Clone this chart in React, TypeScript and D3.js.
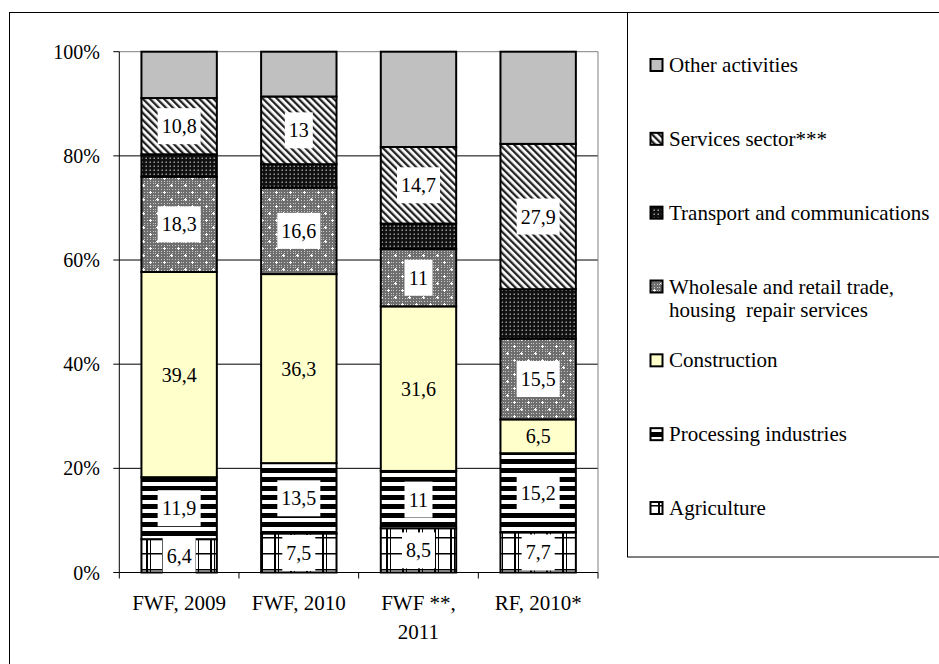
import React from "react";
import * as d3 from "d3";

const categories = ["FWF, 2009", "FWF, 2010", "FWF **,\n2011", "RF, 2010*"];

// stacked bottom -> top
const seriesNames = [
  "Agriculture",
  "Processing industries",
  "Construction",
  "Wholesale and retail trade,\nhousing  repair services",
  "Transport and communications",
  "Services sector***",
  "Other activities",
];

const agriculture = [6.4, 7.5, 8.5, 7.7];
const processing = [11.9, 13.5, 11, 15.2];
const construction = [39.4, 36.3, 31.6, 6.5];
const wholesale = [18.3, 16.6, 11, 15.5];
const transport = [4.3, 4.5, 4.9, 9.5];
const services = [10.8, 13, 14.7, 27.9];
const other = [8.9, 8.6, 18.3, 17.7];

const labelled = [true, true, true, true, false, true, false];
const yTicks = [0, 20, 40, 60, 80, 100];

const FONT = "'Liberation Serif', 'Times New Roman', serif";

export default function App() {
  const width = 939;
  const height = 664;
  const plot = { left: 119.3, right: 598, top: 51.7, bottom: 572.5 };

  const values = [agriculture, processing, construction, wholesale, transport, services, other];
  const keys = seriesNames.map((_, i) => "s" + i);
  const rows = categories.map((c, j) => {
    const r: any = { cat: c };
    keys.forEach((k, i) => (r[k] = values[i][j]));
    return r;
  });
  const stacked = d3.stack().keys(keys)(rows);

  const x = d3
    .scaleBand()
    .domain(categories)
    .range([plot.left, plot.right])
    .paddingInner(0.37)
    .paddingOuter(0.185);
  const y = d3.scaleLinear().domain([0, 100]).range([plot.bottom, plot.top]);

  const fills = [
    "url(#pAgri)",
    "url(#pProc)",
    "#FFFFCC",
    "url(#pTrade)",
    "url(#pTrans)",
    "url(#pServ)",
    "#C0C0C0",
  ];

  const fmt = (v: number) => String(v).replace(".", ",");
  const textW = (s: string) =>
    s.split("").reduce((a, ch) => a + (ch === "," ? 5 : 10), 0);

  const step = x.step();
  const legendOrder = [6, 5, 4, 3, 2, 1, 0];
  const legendY = d3.scalePoint().domain(legendOrder.map(String)).range([65, 508]);

  return (
    <svg
      width={width}
      height={height}
      style={{ position: "absolute", left: 0, top: 0, background: "#fff" }}
      fontFamily={FONT}
    >
      <defs>
        <pattern id="pAgri" width="16" height="16" patternUnits="userSpaceOnUse">
          <rect width="16" height="16" fill="#fff" />
          <rect x="2" y="0" width="2" height="16" fill="#000" />
          <rect x="6" y="0" width="1" height="16" fill="#000" />
          <rect x="0" y="9" width="16" height="1.5" fill="#000" />
        </pattern>
        <pattern id="pProc" width="9" height="9" patternUnits="userSpaceOnUse">
          <rect width="9" height="9" fill="#fff" />
          <rect x="0" y="0" width="9" height="5" fill="#000" />
        </pattern>
        <pattern id="pFine" width="3" height="3" patternUnits="userSpaceOnUse">
          <rect width="3" height="3" fill="#6e6e6e" />
          <rect x="1" y="1" width="1" height="1" fill="#c8c8c8" />
        </pattern>
        <pattern id="pTrade" width="14" height="14" patternUnits="userSpaceOnUse">
          <rect width="14" height="14" fill="url(#pFine)" />
          <rect x="2" y="3" width="3" height="1" fill="#fff" />
          <rect x="3" y="2" width="1" height="3" fill="#fff" />
          <rect x="9" y="10" width="3" height="1" fill="#fff" />
          <rect x="10" y="9" width="1" height="3" fill="#fff" />
        </pattern>
        <pattern id="pTrans" width="4" height="4" patternUnits="userSpaceOnUse">
          <rect width="4" height="4" fill="#111" />
          <rect x="1.5" y="1.5" width="1.5" height="1.5" fill="#9a9a9a" />
        </pattern>
        <pattern
          id="pServ"
          width="5"
          height="5"
          patternUnits="userSpaceOnUse"
          patternTransform="rotate(-45)"
        >
          <rect width="5" height="5" fill="#fff" />
          <rect x="0" y="0" width="2.3" height="5" fill="#222" />
        </pattern>
      </defs>

      {/* outer chart frame */}
      <rect x={9.5} y={12.5} width={960} height={680} fill="none" stroke="#000" strokeWidth={1} />

      {/* gridlines */}
      {yTicks.slice(1, -1).map((t) => (
        <line key={t} x1={plot.left} x2={plot.right} y1={y(t)} y2={y(t)} stroke="#000" strokeWidth={1} />
      ))}
      <line x1={plot.left} x2={plot.right} y1={plot.top} y2={plot.top} stroke="#808080" />
      <line x1={plot.right} x2={plot.right} y1={plot.top} y2={plot.bottom} stroke="#808080" />

      {/* bars */}
      {stacked.map((layer, i) => (
        <g key={layer.key}>
          {layer.map((d, j) => (
            <rect
              key={j}
              x={x(categories[j])}
              y={y(d[1])}
              width={x.bandwidth()}
              height={y(d[0]) - y(d[1])}
              fill={fills[i]}
              stroke="#000"
              strokeWidth={2}
            />
          ))}
        </g>
      ))}

      {/* value labels */}
      {stacked.map((layer, i) =>
        labelled[i]
          ? layer.map((d, j) => {
              const cx = (x(categories[j]) as number) + x.bandwidth() / 2;
              const cy = (y(d[0]) + y(d[1])) / 2;
              const s = fmt(values[i][j]);
              const bw = textW(s) + 8;
              return (
                <g key={layer.key + j}>
                  {i !== 2 && (
                    <rect x={cx - bw / 2} y={cy - 18} width={bw} height={36} fill="#fff" />
                  )}
                  <text
                    x={cx}
                    y={cy}
                    textAnchor="middle"
                    dominantBaseline="central"
                    fontSize={20}
                    fontFamily={FONT}
                    fill="#000"
                  >
                    {s}
                  </text>
                </g>
              );
            })
          : null
      )}

      {/* axes */}
      <line x1={plot.left} x2={plot.left} y1={plot.top} y2={plot.bottom} stroke="#000" />
      <line x1={plot.left} x2={plot.right} y1={plot.bottom} y2={plot.bottom} stroke="#000" />
      {yTicks.map((t) => (
        <g key={t}>
          <line x1={plot.left - 6} x2={plot.left} y1={y(t)} y2={y(t)} stroke="#000" />
          <text
            x={100}
            y={y(t)}
            textAnchor="end"
            dominantBaseline="central"
            fontSize={20}
            fontFamily={FONT}
          >
            {t}%
          </text>
        </g>
      ))}
      {d3.range(categories.length + 1).map((k) => (
        <line
          key={k}
          x1={plot.left + k * step}
          x2={plot.left + k * step}
          y1={plot.bottom}
          y2={plot.bottom + 6}
          stroke="#000"
        />
      ))}
      {categories.map((c) => (
        <text key={c} textAnchor="middle" fontSize={21} fontFamily={FONT}>
          {c.split("\n").map((ln, li) => (
            <tspan
              key={li}
              x={(x(c) as number) + x.bandwidth() / 2}
              y={603 + li * 28.5}
              dominantBaseline="central"
            >
              {ln}
            </tspan>
          ))}
        </text>
      ))}

      {/* legend */}
      <rect x={627.5} y={12.5} width={400} height={544.5} fill="#fff" stroke="#000" strokeWidth={1} />
      {legendOrder.map((si) => {
        const ly = legendY(String(si)) as number;
        const lines = seriesNames[si].split("\n");
        return (
          <g key={si}>
            <rect x={650.5} y={ly - 6} width={12} height={12} fill={fills[si]} stroke="#000" strokeWidth={2} />
            <text fontSize={21} fontFamily={FONT}>
              {lines.map((ln, li) => (
                <tspan
                  key={li}
                  x={669}
                  y={ly + li * 23.5}
                  dominantBaseline="central"
                  style={{ whiteSpace: "pre" }}
                >
                  {ln}
                </tspan>
              ))}
            </text>
          </g>
        );
      })}
    </svg>
  );
}
